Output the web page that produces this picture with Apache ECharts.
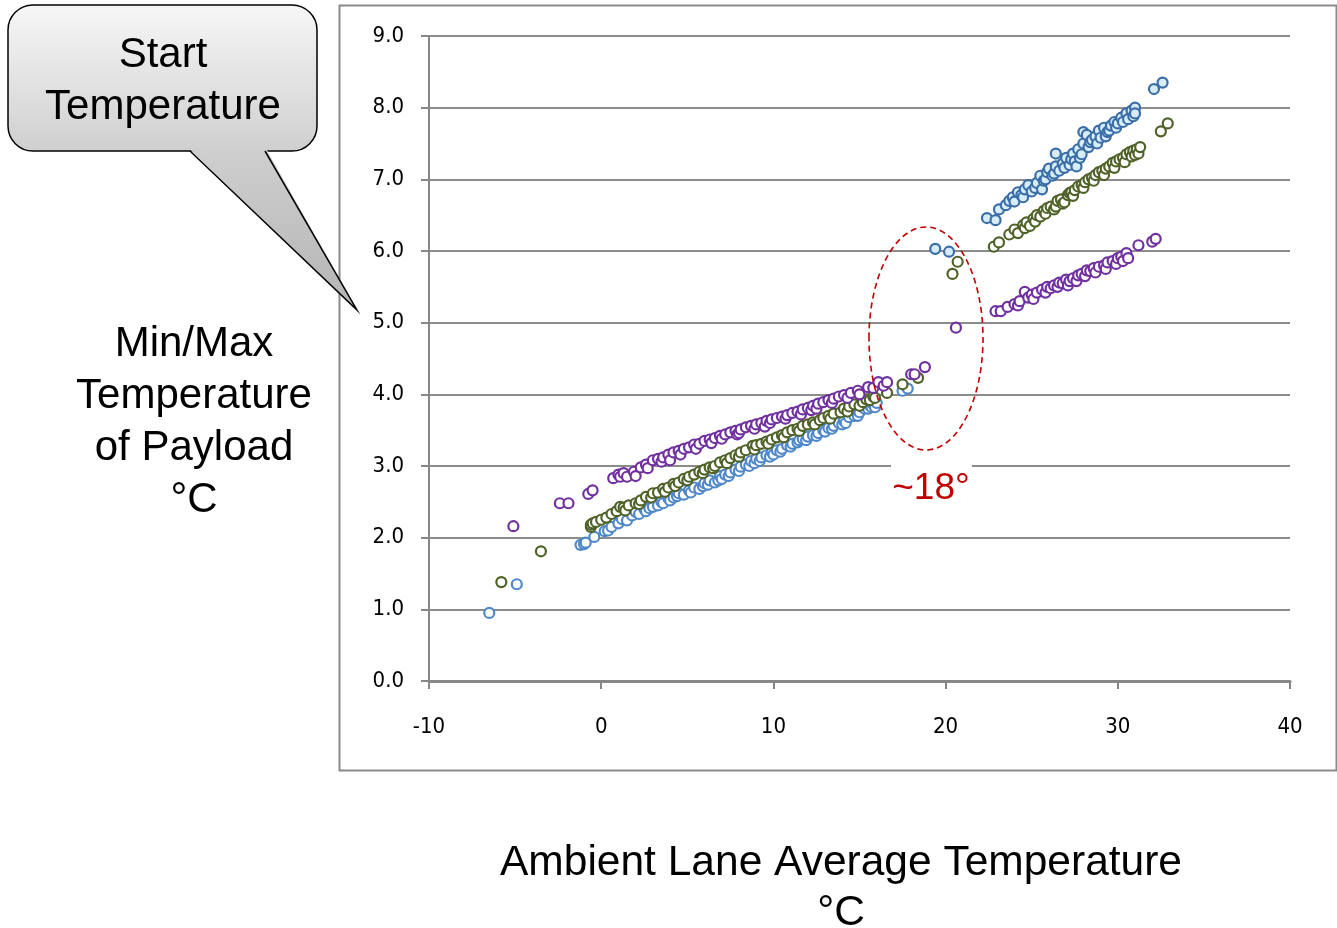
<!DOCTYPE html>
<html>
<head>
<meta charset="utf-8">
<script src="https://cdn.jsdelivr.net/npm/echarts@6/dist/echarts.min.js"></script>
<style>
html,body{margin:0;padding:0;background:#fff;}
#chart{width:1337px;height:928px;}
</style>
</head>
<body>
<div id="chart"></div>
<script>
// ---- Data (x = ambient lane average °C, y = payload temperature °C) ----
const xTicks = [-10, 0, 10, 20, 30, 40];
const yTicks = [0, 1, 2, 3, 4, 5, 6, 7, 8, 9];

const blueLowPts = [
  [-6.5,0.95],[-4.9,1.35],
  [-1.2,1.9],[-1.0,1.91],[-0.9,1.93],[-0.4,2.01],[0.2,2.09],[0.4,2.1],[0.6,2.15],[1.0,2.2],[1.2,2.26],
  [1.5,2.24],[1.8,2.31],[2.0,2.36],[2.2,2.33],[2.5,2.4],[2.6,2.37],[2.8,2.41],[3.0,2.43],[3.3,2.45],
  [3.5,2.5],[3.6,2.48],[3.9,2.55],[4.0,2.52],[4.2,2.56],[4.4,2.58],[4.5,2.62],[4.8,2.6],[5.1,2.66],
  [5.2,2.63],[5.4,2.7],[5.7,2.68],[5.9,2.72],[6.0,2.76],[6.2,2.74],[6.3,2.8],[6.6,2.77],[6.8,2.8],
  [6.9,2.86],[7.0,2.82],[7.2,2.88],[7.4,2.86],[7.5,2.91],[7.8,2.95],[8.0,2.93],[8.1,2.99],[8.4,3.02],
  [8.6,3.0],[8.7,3.07],[8.9,3.04],[9.0,3.1],[9.2,3.07],[9.3,3.12],[9.6,3.15],[9.8,3.13],[9.9,3.2],
  [10.0,3.16],[10.2,3.22],[10.4,3.2],[10.5,3.24],[10.8,3.29],[11.0,3.27],[11.1,3.31],[11.4,3.33],
  [11.5,3.36],[11.7,3.38],[11.9,3.36],[12.0,3.41],[12.3,3.43],[12.5,3.42],[12.6,3.46],[12.9,3.5],
  [13.0,3.48],[13.2,3.53],[13.4,3.52],[13.5,3.56],[13.8,3.6],[14.0,3.58],[14.1,3.63],[14.2,3.6],
  [14.4,3.68],[14.7,3.7],[14.9,3.7],[15.0,3.75],[15.3,3.8],[15.5,3.8],[15.6,3.85],[15.7,3.82],
  [15.8,3.86],[15.9,3.82],[16.0,3.88],[17.5,4.05],[17.8,4.08]
];

const blueHighPts = [
  [19.4,6.03],[20.2,5.99],
  [22.4,6.46],[22.9,6.43],[23.1,6.58],[23.5,6.64],[23.7,6.7],[23.9,6.75],[24.0,6.69],[24.2,6.82],
  [24.4,6.78],[24.5,6.75],[24.6,6.86],[24.8,6.92],[25.0,6.83],[25.2,6.88],[25.3,6.95],[25.5,7.05],
  [25.6,6.86],[25.7,6.98],[25.8,7.0],[25.9,7.1],[26.0,7.15],[26.2,7.05],[26.3,7.08],[26.4,7.36],
  [26.4,7.18],[26.6,7.12],[26.8,7.22],[26.9,7.16],[27.0,7.3],[27.2,7.2],[27.3,7.28],[27.4,7.36],
  [27.5,7.25],[27.6,7.18],[27.7,7.42],[27.8,7.3],[27.9,7.35],[28.0,7.66],[28.0,7.5],[28.2,7.62],
  [28.3,7.45],[28.4,7.52],[28.5,7.55],[28.7,7.6],[28.8,7.5],[28.9,7.68],[29.0,7.58],[29.2,7.72],
  [29.3,7.6],[29.4,7.66],[29.5,7.68],[29.6,7.75],[29.8,7.8],[29.9,7.72],[30.0,7.78],[30.2,7.86],
  [30.3,7.8],[30.5,7.92],[30.6,7.84],[30.8,7.96],[30.9,7.88],[31.0,8.0],[31.0,7.92],
  [32.1,8.26],[32.6,8.35]
];

const greenPts = [
  [-5.8,1.38],[-3.5,1.81],
  [-0.6,2.15],[-0.6,2.18],[-0.5,2.2],[-0.3,2.22],[0.0,2.25],[0.3,2.28],[0.6,2.33],[0.9,2.37],[1.1,2.43],
  [1.3,2.42],[1.4,2.38],[1.6,2.45],[2.0,2.48],[2.2,2.47],[2.3,2.52],[2.6,2.57],[2.9,2.56],[3.0,2.62],
  [3.3,2.63],[3.6,2.68],[3.7,2.64],[3.9,2.7],[4.2,2.75],[4.3,2.72],[4.5,2.77],[4.8,2.82],[5.0,2.8],
  [5.1,2.85],[5.4,2.88],[5.7,2.92],[5.9,2.9],[6.0,2.95],[6.3,2.98],[6.5,2.97],[6.6,3.0],[6.9,3.05],
  [7.2,3.08],[7.3,3.04],[7.5,3.11],[7.8,3.15],[8.0,3.13],[8.1,3.19],[8.4,3.22],[8.8,3.28],[8.9,3.23],
  [9.0,3.29],[9.3,3.31],[9.6,3.34],[9.7,3.31],[9.9,3.37],[10.2,3.4],[10.5,3.43],[10.6,3.4],[10.8,3.47],
  [11.1,3.5],[11.4,3.52],[11.5,3.49],[11.7,3.56],[12.0,3.58],[12.3,3.61],[12.4,3.58],[12.7,3.64],
  [12.9,3.67],[13.2,3.7],[13.3,3.66],[13.5,3.73],[13.9,3.75],[14.1,3.8],[14.3,3.76],[14.4,3.83],
  [14.7,3.86],[15.0,3.84],[15.2,3.89],[15.4,3.93],[15.6,3.92],[15.8,3.97],[15.9,3.95],[16.6,4.02],
  [17.5,4.14],[18.4,4.23],
  [20.4,5.68],[20.7,5.85],
  [22.8,6.06],[23.1,6.12],[23.7,6.23],[24.0,6.3],[24.2,6.25],[24.5,6.36],[24.6,6.32],[24.7,6.4],
  [24.9,6.35],[25.1,6.45],[25.2,6.41],[25.3,6.5],[25.5,6.48],[25.7,6.56],[25.8,6.52],[25.9,6.6],
  [26.1,6.62],[26.3,6.58],[26.4,6.62],[26.5,6.7],[26.7,6.72],[26.8,6.66],[26.9,6.68],[27.1,6.78],
  [27.2,6.81],[27.3,6.82],[27.4,6.77],[27.5,6.85],[27.7,6.9],[27.9,6.92],[28.0,6.88],[28.1,6.96],
  [28.3,7.0],[28.5,7.02],[28.6,6.98],[28.7,7.06],[28.9,7.1],[29.1,7.12],[29.2,7.06],[29.3,7.15],
  [29.5,7.18],[29.7,7.23],[29.8,7.16],[29.9,7.25],[30.1,7.28],[30.3,7.3],[30.4,7.24],[30.5,7.35],
  [30.7,7.38],[30.8,7.32],[30.9,7.4],[31.0,7.34],[31.1,7.42],[31.2,7.36],[31.3,7.45],
  [32.5,7.67],[32.9,7.78]
];

const purplePts = [
  [-5.1,2.16],[-2.4,2.48],[-1.9,2.48],[-0.75,2.61],[-0.5,2.66],
  [0.7,2.83],[1.0,2.88],[1.1,2.85],[1.3,2.9],[1.5,2.85],[1.9,2.92],[2.0,2.86],[2.3,2.98],[2.6,3.02],
  [2.7,2.97],[3.0,3.08],[3.3,3.1],[3.5,3.06],[3.6,3.12],[3.9,3.16],[4.0,3.08],[4.2,3.19],[4.5,3.21],
  [4.6,3.16],[4.8,3.24],[5.1,3.26],[5.4,3.3],[5.5,3.24],[5.7,3.31],[6.0,3.35],[6.3,3.37],[6.4,3.32],
  [6.6,3.39],[6.9,3.42],[7.0,3.38],[7.2,3.44],[7.5,3.47],[7.8,3.49],[7.9,3.44],[8.0,3.46],[8.1,3.51],
  [8.4,3.54],[8.7,3.56],[8.9,3.52],[9.0,3.58],[9.3,3.6],[9.5,3.55],[9.6,3.63],[9.8,3.6],[9.9,3.65],
  [10.2,3.67],[10.5,3.69],[10.7,3.66],[10.8,3.71],[11.1,3.74],[11.4,3.76],[11.6,3.72],[11.7,3.79],
  [12.0,3.81],[12.2,3.78],[12.3,3.84],[12.5,3.8],[12.6,3.87],[12.9,3.89],[13.2,3.92],[13.4,3.88],
  [13.5,3.94],[13.8,3.97],[14.1,3.99],[14.3,3.95],[14.5,4.02],[14.9,4.05],[15.0,4.0],[15.5,4.1],
  [15.8,4.09],[16.1,4.17],[16.4,4.12],[16.6,4.17],[18.0,4.28],[18.2,4.28],[18.8,4.38],[20.6,4.93],
  [22.9,5.16],[23.2,5.16],[23.6,5.22],[24.0,5.26],[24.2,5.24],[24.3,5.3],[24.6,5.43],[24.8,5.35],
  [25.0,5.39],[25.1,5.33],[25.3,5.42],[25.6,5.46],[25.8,5.42],[25.9,5.5],[26.1,5.48],[26.3,5.52],
  [26.5,5.5],[26.6,5.56],[26.8,5.55],[27.0,5.6],[27.1,5.52],[27.2,5.58],[27.4,5.62],[27.6,5.58],
  [27.7,5.66],[27.9,5.68],[28.1,5.65],[28.2,5.73],[28.4,5.72],[28.6,5.76],[28.7,5.7],[28.9,5.78],
  [29.2,5.8],[29.3,5.75],[29.4,5.84],[29.7,5.86],[29.9,5.82],[30.0,5.9],[30.2,5.92],[30.3,5.86],
  [30.5,5.97],[30.6,5.9],[31.2,6.08],[32.0,6.13],[32.2,6.17]
];

const calloutLines = ['Start', 'Temperature'];
const yTitleLines = ['Min/Max', 'Temperature', 'of Payload', '°C'];
const xTitleLines = ['Ambient Lane Average Temperature', '°C'];
const gapLabel = '~18°';

// ---- Chart ----
const chart = echarts.init(document.getElementById('chart'), null, {renderer: 'canvas'});
const tickFont = '"Liberation Sans Narrow","DejaVu Sans Condensed","Liberation Sans",sans-serif';
const titleFont = '"Liberation Sans",Arial,sans-serif';
const axisGray = '#878787';

function scatter(name, data, stroke, fill) {
  return {
    name, type: 'scatter', data,
    symbol: 'circle', symbolSize: 10,
    itemStyle: {color: fill, borderColor: stroke, borderWidth: 2.2, opacity: 1},
    emphasis: {disabled: true},
    animation: false
  };
}

function txt(t, x, y, size, color, z) {
  return {type: 'text', silent: true, z: z || 5,
    style: {text: t, x: x, y: y, fontSize: size, fontFamily: titleFont, fill: color || '#000',
            align: 'center', verticalAlign: 'middle'}};
}

const option = {
  backgroundColor: '#ffffff',
  animation: false,
  grid: {left: 429, right: 47, top: 36, bottom: 247, containLabel: false},
  xAxis: {
    type: 'value', min: xTicks[0], max: xTicks[xTicks.length - 1], interval: 10,
    axisLine: {show: true, onZero: false, lineStyle: {color: axisGray, width: 3}},
    axisTick: {show: true, inside: false, length: 8, lineStyle: {color: axisGray, width: 2}},
    axisLabel: {margin: 35, fontSize: 22, fontFamily: tickFont, color: '#000'},
    splitLine: {show: false}
  },
  yAxis: {
    type: 'value', min: yTicks[0], max: yTicks[yTicks.length - 1], interval: 1,
    axisLine: {show: true, onZero: false, lineStyle: {color: axisGray, width: 2}},
    axisTick: {show: true, inside: false, length: 8, lineStyle: {color: axisGray, width: 2}},
    axisLabel: {margin: 25, fontSize: 22, fontFamily: tickFont, color: '#000',
      formatter: v => v.toFixed(1)},
    splitLine: {show: true, lineStyle: {color: '#8c8c8c', width: 2}}
  },
  series: [
    scatter('Blue (low)', blueLowPts, '#4f88c8', '#ffffff'),
    scatter('Blue (high)', blueHighPts, '#3b6ea8', '#d6ecf7'),
    scatter('Green', greenPts, '#4f6228', '#ffffff'),
    scatter('Purple', purplePts, '#7030a0', '#ffffff')
  ],
  graphic: [
    // chart frame
    {type: 'rect', shape: {x: 339.5, y: 5.5, width: 997, height: 765},
     style: {fill: 'none', stroke: '#8a8a8a', lineWidth: 2}, z: -10, silent: true},
    // callout box
    {type: 'rect', silent: true, z: 4,
     shape: {x: 8, y: 5, width: 309, height: 146, r: 25},
     style: {
       fill: new echarts.graphic.LinearGradient(0, 0, 0, 1, [
         {offset: 0, color: '#f7f7f7'}, {offset: 1, color: '#cfcfcf'}
       ]),
       stroke: '#000', lineWidth: 1.5
     }},
    // callout pointer fill (covers the box edge at its base)
    {type: 'polygon', silent: true, z: 4.5,
     shape: {points: [[189, 148.5], [266, 148.5], [357, 310]]},
     style: {
       fill: new echarts.graphic.LinearGradient(0, 0, 0, 1, [
         {offset: 0, color: '#cfcfcf'}, {offset: 1, color: '#b4b4b4'}
       ])
     }},
    {type: 'polyline', silent: true, z: 4.6,
     shape: {points: [[190, 151], [357, 310], [265, 151]]},
     style: {fill: 'none', stroke: '#000', lineWidth: 1.5}},
    txt(calloutLines[0], 163, 55, 42),
    txt(calloutLines[1], 163, 107, 42),
    // y axis title
    ...yTitleLines.map((t, i) => txt(t, 194, 344 + i * 52, 42)),
    // x axis title
    ...xTitleLines.map((t, i) => txt(t, 841, 863 + i * 50, 42.5)),
    // dashed ellipse
    {type: 'ellipse', silent: true, z: 10,
     shape: {cx: 926, cy: 338.5, rx: 57, ry: 111.5},
     style: {fill: 'none', stroke: '#c00000', lineWidth: 1.6, lineDash: [6, 4]}},
    // gap label with white box
    {type: 'rect', silent: true, z: 10,
     shape: {x: 891, y: 458, width: 81, height: 50}, style: {fill: '#ffffff'}},
    txt(gapLabel, 931, 489, 37, '#c00000', 11)
  ]
};
chart.setOption(option);
</script>
</body>
</html>
